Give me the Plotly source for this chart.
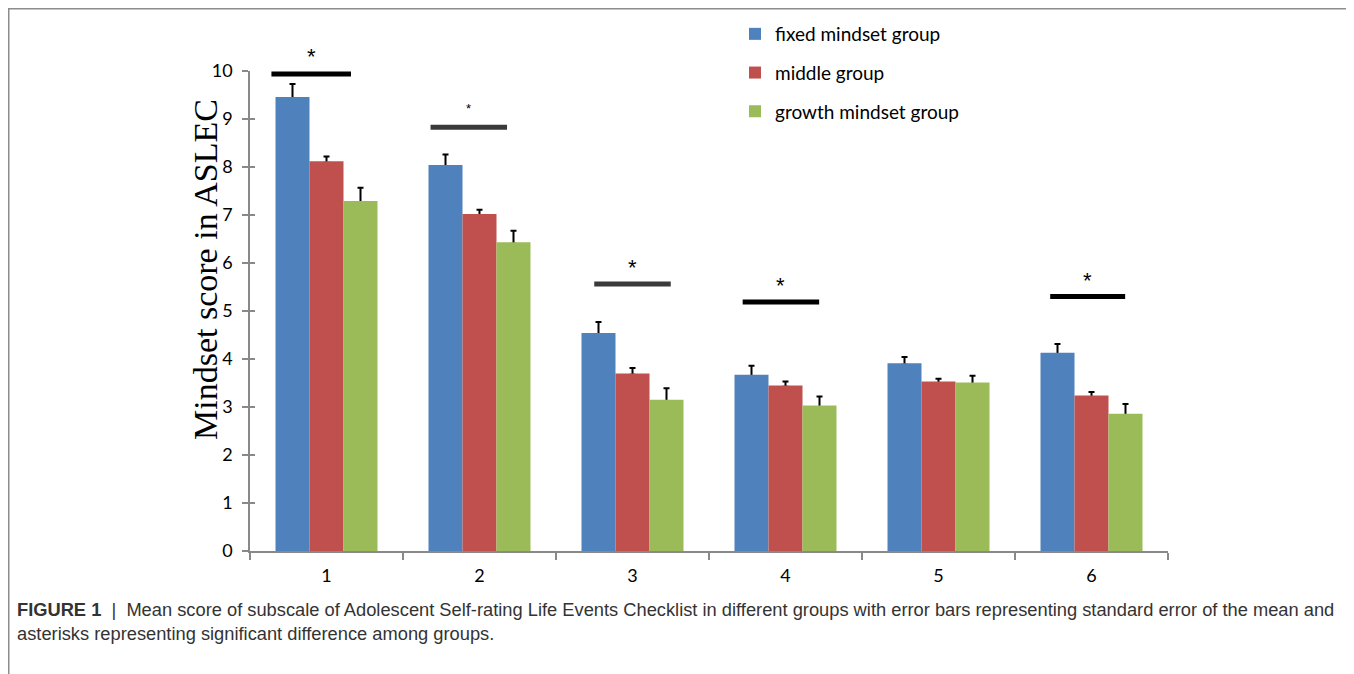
import plotly.graph_objects as go

categories = ["1", "2", "3", "4", "5", "6"]
series_names = ["fixed mindset group", "middle group", "growth mindset group"]
fixed_vals = [9.46, 8.04, 4.54, 3.67, 3.91, 4.13]
fixed_err = [0.27, 0.22, 0.23, 0.19, 0.13, 0.18]
middle_vals = [8.12, 7.02, 3.70, 3.45, 3.53, 3.24]
middle_err = [0.10, 0.09, 0.11, 0.08, 0.06, 0.07]
growth_vals = [7.29, 6.43, 3.15, 3.03, 3.51, 2.86]
growth_err = [0.28, 0.24, 0.24, 0.19, 0.14, 0.20]
colors = ["#4F81BD", "#C0504D", "#9BBB59"]

# significance markers: category index, bar level, bar start/end offsets, star level
sig_cats = [0, 1, 2, 3, 5]
sig_levels = [9.94, 8.83, 5.56, 5.19, 5.30]
sig_left = [-0.36, -0.32, -0.25, -0.28, -0.27]
sig_right = [0.16, 0.18, 0.25, 0.22, 0.22]
sig_star_levels = [10.33, 9.24, 5.94, 5.56, 5.67]
sig_colors = ["#000000", "#3a3a3a", "#3a3a3a", "#000000", "#000000"]
sig_star_sizes = [22, 13, 22, 22, 22]

y_ticks = list(range(0, 11))
Y_MIN, Y_MAX = 0, 10

fig = go.Figure()
all_vals = [fixed_vals, middle_vals, growth_vals]
all_errs = [fixed_err, middle_err, growth_err]
# error bars first (hidden bars), so the coloured bars cover the lower cap
for k, (name, vals, errs) in enumerate(zip(series_names, all_vals, all_errs)):
    fig.add_trace(go.Bar(
        x=categories, y=vals, name=name, offsetgroup=str(k), showlegend=False,
        marker=dict(color="rgba(0,0,0,0)", line=dict(width=0)), hoverinfo="skip",
        error_y=dict(type="data", array=errs, arrayminus=[0.03] * len(errs),
                     symmetric=False, color="#000000", thickness=2, width=3),
    ))
for k, (name, vals, col) in enumerate(zip(series_names, all_vals, colors)):
    fig.add_trace(go.Bar(
        x=categories, y=vals, name=name, legendgroup=name, offsetgroup=str(k),
        marker=dict(color=col, line=dict(width=0)),
    ))
# invisible helper trace so the inner half of the crossing y ticks is drawn
fig.add_trace(go.Scatter(x=[categories[0]], y=[Y_MIN], yaxis="y2", mode="markers",
                         marker=dict(opacity=0), showlegend=False, hoverinfo="skip"))

OFF = 8  # page body margin
W, H = 1354 - OFF, 674 - OFF
L, T = 250 - OFF, 71 - OFF
R = W - (1168 - OFF)
B = H - (551 - OFF)
pw, ph = W - L - R, H - T - B

def px_x(p):
    return (p - OFF - L) / pw

def px_y(p):
    return 1 - (p - OFF - T) / ph

shapes = []
annotations = []
for c, lv, l0, r0, sl, sc, ss in zip(sig_cats, sig_levels, sig_left, sig_right,
                                     sig_star_levels, sig_colors, sig_star_sizes):
    shapes.append(dict(type="line", xref="x", yref="y", x0=c + l0, x1=c + r0,
                       y0=lv, y1=lv, line=dict(color=sc, width=5)))
    annotations.append(dict(xref="x", yref="paper", x=c + (l0 + r0) / 2,
                            y=(sl - Y_MIN) / (Y_MAX - Y_MIN),
                            xanchor="center", yanchor="middle",
                            text="*", showarrow=False, yshift=-ss * 0.07,
                            font=dict(family="Liberation Sans", size=ss, color="#000000")))

# frame
border = "#8c8c8c"
shapes += [
    dict(type="line", xref="paper", yref="paper", x0=px_x(8.75), x1=px_x(8.75),
         y0=px_y(8.75), y1=px_y(690), line=dict(color=border, width=1.5)),
    dict(type="line", xref="paper", yref="paper", x0=px_x(8), x1=px_x(1352),
         y0=px_y(8.75), y1=px_y(8.75), line=dict(color=border, width=1.5)),
    dict(type="line", xref="paper", yref="paper", x0=px_x(1352), x1=px_x(1352),
         y0=px_y(8.75), y1=px_y(690), line=dict(color="#d0d0d0", width=1)),
]

annotations.append(dict(
    xref="paper", yref="paper", x=px_x(205), y=px_y(270),
    text="Mindset score in ASLEC", textangle=-90, showarrow=False,
    font=dict(family="Liberation Serif", size=34, color="#000000"),
    xanchor="center", yanchor="middle"))

annotations.append(dict(
    xref="paper", yref="paper", x=px_x(15), y=px_y(597), xanchor="left", yanchor="top",
    align="left", showarrow=False,
    text="<b>FIGURE 1</b>  |  Mean score of subscale of Adolescent Self-rating Life Events Checklist in different groups with error bars representing standard error of the mean and<br>asterisks representing significant difference among groups.",
    font=dict(family="Liberation Sans", size=18.3, color="#333333")))

axis_col = "#898989"
fig.update_layout(
    width=W, height=H,
    margin=dict(l=L, r=R, t=T, b=B, autoexpand=False),
    paper_bgcolor="white", plot_bgcolor="white",
    barmode="group", bargap=1 / 3, bargroupgap=0,
    showlegend=True,
    legend=dict(x=px_x(735), y=px_y(15), xanchor="left", yanchor="top",
                font=dict(family="Lato", size=19, color="#000000"),
                tracegroupgap=11, bgcolor="rgba(0,0,0,0)"),
    xaxis=dict(type="category", tickson="boundaries", ticks="outside", ticklen=7,
               tickcolor=axis_col, tickwidth=1.5,
               showline=True, linecolor=axis_col, linewidth=1.5,
               showgrid=False, zeroline=False, ticklabelstandoff=8,
               tickfont=dict(family="Lato", size=18, color="#000000")),
    yaxis=dict(range=[Y_MIN, Y_MAX], tickvals=y_ticks, ticks="outside", ticklen=6,
               tickcolor=axis_col, tickwidth=1.5,
               showline=True, linecolor=axis_col, linewidth=1.5,
               showgrid=False, zeroline=False, ticklabelstandoff=6,
               tickfont=dict(family="Lato", size=18, color="#000000")),
    yaxis2=dict(range=[Y_MIN, Y_MAX], tickvals=y_ticks, ticks="inside", ticklen=5,
                tickcolor=axis_col, tickwidth=1.5, overlaying="y", side="left",
                anchor="x", showline=False, showgrid=False, zeroline=False,
                showticklabels=False),
    shapes=shapes, annotations=annotations,
)

fig.write_html("out.html")
